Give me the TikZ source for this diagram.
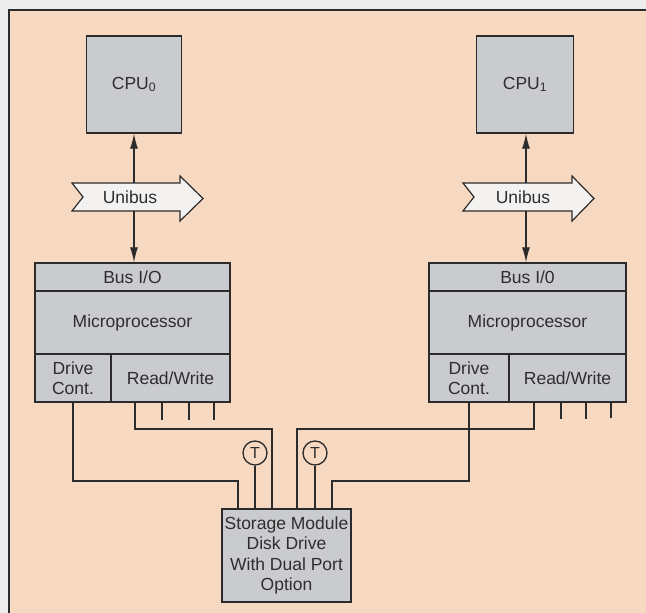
\documentclass[tikz,border=0pt]{standalone}
\usepackage{fontspec}
\setmainfont{Liberation Sans}
\usetikzlibrary{arrows.meta}
\definecolor{linec}{HTML}{2B2B2B}
\definecolor{txt}{HTML}{2E2E2E}
\definecolor{boxc}{HTML}{CACBCF}
\definecolor{bgc}{HTML}{F7D9C2}
\definecolor{outc}{HTML}{EDEDED}
\definecolor{unic}{HTML}{F3F2F1}
\begin{document}
\begin{tikzpicture}[x=1pt,y=-1pt,
  box/.style={draw=linec, fill=boxc, line width=1.4pt, inner sep=0pt, text=txt,
    font=\fontsize{17.5}{20.5}\selectfont, align=center},
  wire/.style={draw=linec, line width=1.3pt},
  arr/.style={draw=linec, line width=1.3pt, -{Latex[length=15pt,width=8pt]}},
  busshape/.style={draw=linec, fill=unic, line width=1.2pt, line join=miter},
  tnode/.style={circle, draw=linec, line width=1.3pt, minimum size=24pt, inner sep=0pt,
    text=txt, font=\fontsize{16}{16}\selectfont},
  lbl/.style={text=txt, font=\fontsize{17.5}{20.5}\selectfont, inner sep=0pt}
]
\useasboundingbox (0,0) rectangle (646,613);
\fill[outc] (0,0) rectangle (646,613);
\fill[bgc] (9,10) rectangle (646,613);
\draw[linec, line width=2.4pt] (9,613) -- (9,10) -- (646,10);

% CPUs
\node[box, minimum width=95pt, minimum height=97pt] (cpu0) at (134,84.5) {CPU\textsubscript{0}};
\node[box, minimum width=97pt, minimum height=97pt] (cpu1) at (525,84.5) {CPU\textsubscript{1}};

% Unibus arrows
\draw[busshape] (72,183) -- (180,183) -- (180,176) -- (203,198.5) -- (180,221) -- (180,211) -- (72,211) -- (83,197) -- cycle;
\node[lbl] (uni0) at (130,197.5) {Unibus};
\draw[busshape] (463,183) -- (572,183) -- (572,176) -- (594,198.5) -- (572,221) -- (572,211) -- (463,211) -- (474,197) -- cycle;
\node[lbl] (uni1) at (523,197.5) {Unibus};
\coordinate (u0t) at (134,183);
\coordinate (u0b) at (134,211);
\coordinate (u1t) at (526,183);
\coordinate (u1b) at (526,211);

% Left controller block
\node[box, minimum width=195pt, minimum height=28pt] (bus0) at (132.5,277) {Bus I/O};
\node[box, minimum width=195pt, minimum height=63pt] (mp0) at (132.5,322.5) {Microprocessor};
\node[box, minimum width=76pt, minimum height=48pt] (dc0) at (73,378) {Drive\\Cont.};
\node[box, minimum width=119pt, minimum height=48pt] (rw0) at (170.5,378) {Read/Write};

% Right controller block
\node[box, minimum width=197pt, minimum height=28pt] (bus1) at (527.5,277) {Bus I/0};
\node[box, minimum width=197pt, minimum height=63pt] (mp1) at (527.5,322.5) {Microprocessor};
\node[box, minimum width=80pt, minimum height=48pt] (dc1) at (469,378) {Drive\\Cont.};
\node[box, minimum width=117pt, minimum height=48pt] (rw1) at (567.5,378) {Read/Write};

% Arrows between CPU, Unibus and controllers
\draw[arr] (u0t) -- (cpu0.south -| u0t);
\draw[arr] (u0b) -- (bus0.north -| u0b);
\draw[arr] (u1t) -- (cpu1.south -| u1t);
\draw[arr] (u1b) -- (bus1.north -| u1b);

% Storage module
\node[box, minimum width=129pt, minimum height=93pt] (smd) at (286.5,555.5)
  {Storage Module\\Disk Drive\\With Dual Port\\Option};
\coordinate (sa) at (238,509);
\coordinate (sb) at (255,509);
\coordinate (sc) at (272,509);
\coordinate (sd) at (297,509);
\coordinate (se) at (315,509);
\coordinate (sf) at (332,509);

% Terminators
\node[tnode] (t0) at (255,453) {T};
\node[tnode] (t1) at (315,453) {T};
\draw[wire] (t0) -- (sb);
\draw[wire] (t1) -- (se);

% Wiring
\coordinate (rwp0) at (135,402);
\coordinate (rwp1) at (534,402);
\draw[wire] (dc0.south) |- (238,481) -- (sa);
\draw[wire] (rwp0) |- (272,429) -- (sc);
\draw[wire] (rwp1) |- (297,429) -- (sd);
\draw[wire] (dc1.south) |- (332,481) -- (sf);

% stubs
\draw[wire] (162,402) -- (162,420);
\draw[wire] (189,402) -- (189,420);
\draw[wire] (214,402) -- (214,420);
\draw[wire] (561,402) -- (561,419);
\draw[wire] (586,402) -- (586,419);
\draw[wire] (611,402) -- (611,418);
\end{tikzpicture}
\end{document}
